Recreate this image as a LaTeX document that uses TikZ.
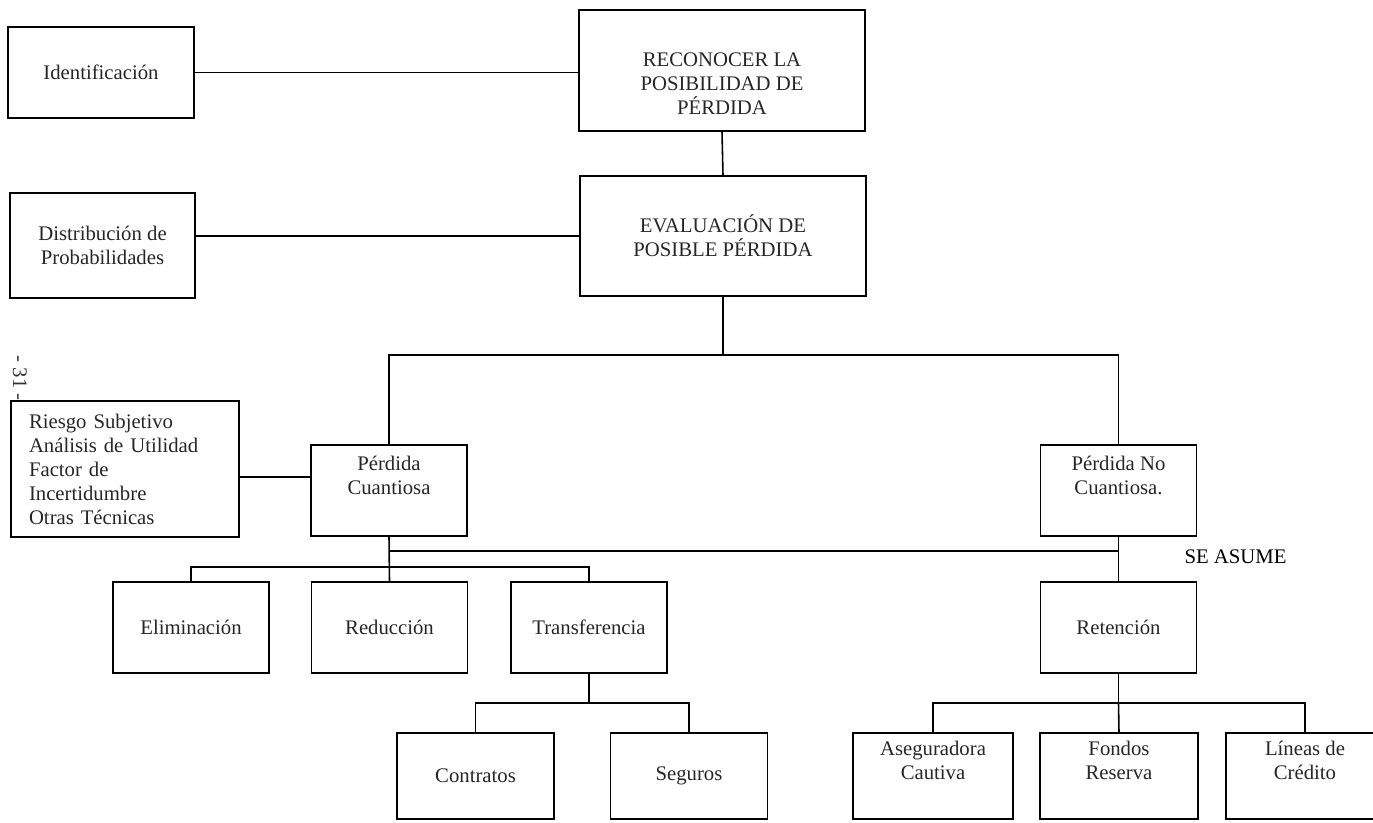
\documentclass[tikz,border=0pt]{standalone}
\usepackage{fontspec}
\setmainfont{Liberation Serif}
\usepackage{tikz}
\usetikzlibrary{positioning,calc}

\tikzset{
  caja/.style={draw, line width=0.9pt, align=center, inner sep=0pt, text=black!85},
  media/.style={caja, minimum width=3.12cm, minimum height=1.82cm},
  hoja/.style={caja, minimum width=3.14cm, minimum height=1.72cm},
  linea/.style={line width=0.9pt}
}

\begin{document}
\begin{tikzpicture}[x=0.02cm, y=-0.02cm, font=\fontsize{11.8pt}{13.66pt}\selectfont]
  \useasboundingbox (0,0) rectangle (1373,822);
  \clip (0,0) rectangle (1373,822);

  % Define coordinates for nodes
  \node[caja, minimum width=3.72cm, minimum height=1.82cm] (iden) at (101,72.5) {Identificación};
  \node[caja, minimum width=5.72cm, minimum height=2.42cm] (reco) at (722,70.5) {\strut\\RECONOCER LA\\POSIBILIDAD DE\\PÉRDIDA};
  \node[caja, minimum width=3.70cm, minimum height=2.10cm] (dist) at (102.5,245.5) {Distribución de\\Probabilidades};
  \node[caja, minimum width=5.72cm, minimum height=2.40cm] (eval) at (723,236) {EVALUACIÓN DE\\POSIBLE PÉRDIDA};
  \node[caja, align=left, text width=3.84cm, inner xsep=0.36cm, minimum height=2.72cm] (riesgo) at (125,469)
    {Riesgo Subjetivo\\Análisis de Utilidad\\Factor de\\Incertidumbre\\Otras Técnicas};
  \node[media] (pc) at (389,490.5) {Pérdida\\Cuantiosa\\\strut};
  \node[media] (pnc) at (1118.5,490.5) {Pérdida No\\Cuantiosa.\\\strut};
  \node (seasume) at (1235.5,557) {SE ASUME};
  \node[media] (elim) at (191,627.5) {Eliminación};
  \node[media] (redu) at (389.5,627.5) {Reducción};
  \node[media] (trans) at (589,627.5) {Transferencia};
  \node[media] (reten) at (1118.5,627.5) {Retención};
  \node[hoja] (contr) at (475.5,776) {Contratos};
  \node[hoja] (seg) at (689,776) {Seguros};
  \node[hoja, minimum width=3.20cm] (asegu) at (933,776) {Aseguradora\\Cautiva\\\strut};
  \node[hoja, minimum width=3.16cm] (fondos) at (1119,776) {Fondos\\Reserva\\\strut};
  \node[hoja, minimum width=3.16cm] (lineas) at (1305,776) {Líneas de\\Crédito\\\strut};
  \node[rotate=-90, text=black!80] (pag) at (20,378) {- 31 -};

  \coordinate (r1) at (723,355);
  \coordinate (c1) at ($(pc.west)+(0,-13.5)$);
  \coordinate (asume) at (1118.5,551);
  \coordinate (b1) at (389.5,567);
  \coordinate (b2) at (589,703);
  \coordinate (b3) at (1118.5,703);

  % Draw lines between nodes
  \draw[linea] (iden.east) -- (iden.east -| reco.west);
  \draw[linea] (reco.south) -- (eval.north);
  \draw[linea] (eval.west) -- (eval.west -| dist.east);
  \draw[linea] (eval.south) -- (r1);
  \draw[linea] (pc.north) |- (r1) -| (pnc.north);
  \draw[line width=1.4pt] (c1 -| riesgo.east) -- (c1);
  \draw[linea] (pc.south) -- (redu.north);
  \draw[linea] (pc.south |- asume) -- (asume);
  \draw[linea] (pnc.south) -- (reten.north);
  \draw[linea] (elim.north) |- (b1) -| (trans.north);
  \draw[linea] (trans.south) -- (b2);
  \draw[linea] (contr.north) |- (b2) -| (seg.north);
  \draw[linea] (reten.south) -- (b3);
  \draw[linea] (asegu.north) |- (b3) -| (lineas.north);
  \draw[linea] (b3) -- (fondos.north);
\end{tikzpicture}
\end{document}
